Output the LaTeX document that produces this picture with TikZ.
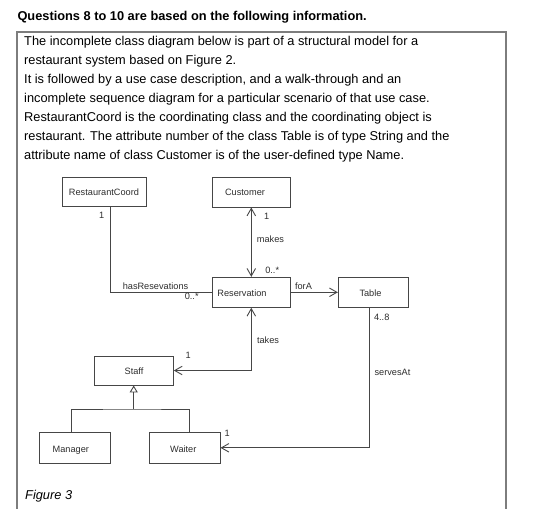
\documentclass[tikz,border=0pt]{standalone}
\usepackage{fontspec}
\setmainfont{Liberation Sans}
\usetikzlibrary{arrows.meta}
\definecolor{linec}{RGB}{70,70,70}
\definecolor{txtc}{RGB}{45,45,45}
\definecolor{framec}{RGB}{125,125,125}
\begin{document}
\begin{tikzpicture}[x=1pt,y=-1pt,
  body/.style={anchor=base west, inner sep=0pt, font=\fontsize{12.8}{15}\selectfont},
  cbox/.style={draw=linec, line width=0.9pt, inner sep=0pt},
  ctext/.style={font=\fontsize{9.2}{11}\selectfont, text=txtc, inner sep=0pt, text height=6.6pt, text depth=0pt},
  conn/.style={draw=linec, line width=0.9pt},
  navtip/.tip={Straight Barb[length=7.5pt,width=8.5pt]},
  gentip/.tip={Triangle[open,length=7pt,width=8pt]}
]
\useasboundingbox (0,0) rectangle (536,509);
% frame
\draw[draw=framec, line width=1.8pt] (17.3,509) -- (17.3,31.7) -- (506,31.7) -- (506,509);
% title and text
\node[body, font=\fontsize{12.8}{15}\selectfont\bfseries] (title) at (17.3,20.7) {Questions 8 to 10 are based on the following information.};
\node[body] (l1) at (24,45.7) {The incomplete class diagram below is part of a structural model for a};
\node[body] (l2) at (24,64.3) {restaurant system based on Figure 2.};
\node[body] (l3) at (24,83.7) {It is followed by a use case description, and a walk-through and an};
\node[body] (l4) at (24,102.3) {incomplete sequence diagram for a particular scenario of that use case.};
\node[body] (l5) at (24,121.7) {RestaurantCoord is the coordinating class and the coordinating object is};
\node[body] (l6) at (24,140.3) {restaurant. The attribute number of the class Table is of type String and the};
\node[body] (l7) at (24,159) {attribute name of class Customer is of the user-defined type Name.};
% boxes
\node[cbox, minimum width=84pt, minimum height=29.4pt] (rc) at (104.7,192) {};
\node[cbox, minimum width=77.3pt, minimum height=30pt] (cust) at (251.3,192) {};
\node[cbox, minimum width=77.3pt, minimum height=30pt] (res) at (251.3,292.3) {};
\node[cbox, minimum width=70pt, minimum height=30pt] (tbl) at (373.3,292.3) {};
\node[cbox, minimum width=79.3pt, minimum height=29pt] (staff) at (133.7,370.5) {};
\node[cbox, minimum width=70.7pt, minimum height=31pt] (mgr) at (74.7,447.8) {};
\node[cbox, minimum width=70.7pt, minimum height=31pt] (wtr) at (184.7,447.8) {};
% box texts
\node[ctext] (rcT) at (104,192) {RestaurantCoord};
\node[ctext] (custT) at (245,192.5) {Customer};
\node[ctext] (resT) at (242,293) {Reservation};
\node[ctext] (tblT) at (370.5,293) {Table};
\node[ctext] (staffT) at (134,371.5) {Staff};
\node[ctext] (mgrT) at (70.8,448.8) {Manager};
\node[ctext] (wtrT) at (183.3,448.8) {Waiter};
% connectors
\draw[conn, navtip-navtip] (cust.south) -- (res.north);
\draw[conn] ([xshift=6pt]rc.south) |- (res.west);
\draw[conn, -navtip] (res.east) -- (tbl.west);
\draw[conn, navtip-navtip] (res.south) |- (staff.east);
\draw[conn, -navtip] ([xshift=-3.8pt]tbl.south) |- (wtr.east);
\coordinate (jn) at (133.7,409);
\draw[conn, -gentip] (jn) -- (staff.south);
\draw[conn] ([xshift=-3pt]mgr.north) |- (jn) -| ([xshift=4.6pt]wtr.north);
% labels
\node[ctext] (m1) at (101.7,215) {1};
\node[ctext] (m2) at (266.7,216) {1};
\node[ctext, anchor=west] (makes) at (256.7,239.3) {makes};
\node[ctext] (m3) at (272.2,270) {0..*};
\node[ctext] (hasr) at (155.5,286) {hasResevations};
\node[ctext] (m4) at (191.7,296) {0..*};
\node[ctext] (fora) at (303.5,286) {forA};
\node[ctext] (m5) at (381.7,316.7) {4..8};
\node[ctext] (takes) at (268,340) {takes};
\node[ctext] (m6) at (188.3,355) {1};
\node[ctext] (serves) at (392.5,371.7) {servesAt};
\node[ctext] (m7) at (227.3,433.3) {1};
% caption
\node[anchor=west, inner sep=0pt, text height=9.2pt, text depth=0pt, font=\fontsize{12.8}{15}\selectfont\itshape] (fig) at (25,495) {Figure 3};
\end{tikzpicture}
\end{document}
